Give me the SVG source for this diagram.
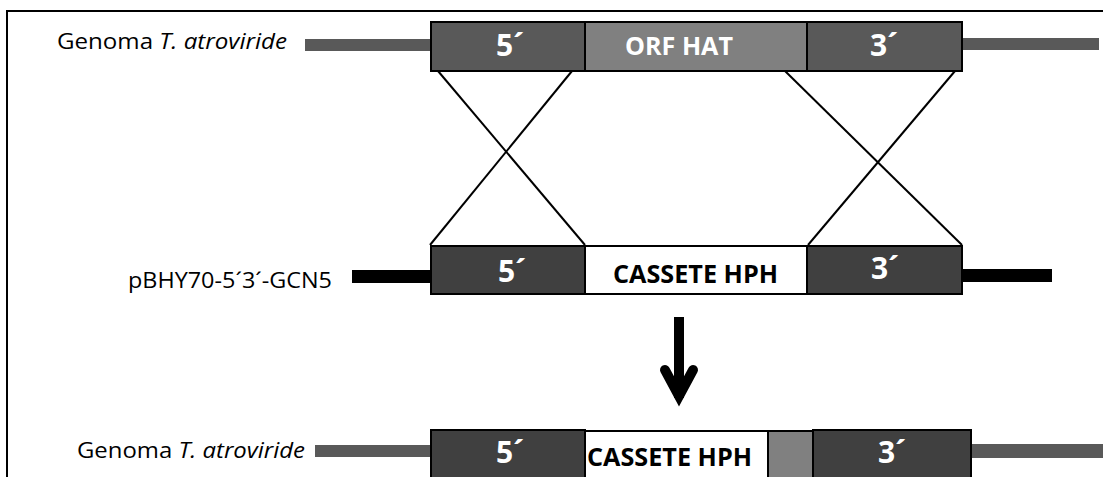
<svg xmlns="http://www.w3.org/2000/svg" width="1103" height="477" viewBox="0 0 1103 477">
  <style>
    .lbl { font-family: "Open Sans", "Noto Sans", "Liberation Sans", sans-serif; font-size: 22px; fill: #000; }
    .it { font-style: italic; }
    .num { font-family: "Open Sans", "Noto Sans", "Liberation Sans", sans-serif; font-size: 30px; font-weight: bold; fill: #fff; text-anchor: middle; }
    .seg { font-family: "Open Sans", "Noto Sans", "Liberation Sans", sans-serif; font-size: 25px; font-weight: bold; }
    .box { stroke: #000; stroke-width: 2; }
    .arm { fill: #595959; }
    .arm2 { fill: #404040; }
    .mid { fill: #808080; }
    .wht { fill: #fff; }
    .cross { stroke: #000; stroke-width: 2; fill: none; }
  </style>

  <!-- frame (top and left edges) -->
  <path d="M7 477 V11 H1103" fill="none" stroke="#000" stroke-width="2"/>

  <!-- genome, before recombination -->
  <g id="genome-top">
    <text class="lbl" x="57" y="49" textLength="230" lengthAdjust="spacingAndGlyphs">Genoma <tspan class="it">T. atroviride</tspan></text>
    <rect x="305" y="39" width="126" height="12" fill="#595959"/>
    <rect x="962" y="38" width="137" height="12" fill="#595959"/>
    <rect class="box arm" x="431" y="22" width="154" height="49"/>
    <rect class="box mid" x="585" y="22" width="222" height="49"/>
    <rect class="box arm" x="807" y="22" width="155" height="49"/>
    <text class="num" x="510" y="56">5´</text>
    <text class="seg" x="625" y="55" fill="#fff" textLength="108" lengthAdjust="spacingAndGlyphs">ORF HAT</text>
    <text class="num" x="884" y="56">3´</text>
  </g>

  <!-- plasmid construct -->
  <g id="plasmid">
    <text class="lbl" x="128" y="288" textLength="204" lengthAdjust="spacingAndGlyphs">pBHY70-5´3´-GCN5</text>
    <rect x="352" y="270" width="79" height="13" fill="#000"/>
    <rect x="962" y="269" width="90" height="13" fill="#000"/>
    <rect class="box arm2" x="431" y="246" width="154" height="48"/>
    <rect class="box wht" x="585" y="246" width="222" height="48"/>
    <rect class="box arm2" x="807" y="246" width="155" height="48"/>
    <text class="num" x="512" y="282">5´</text>
    <text class="seg" x="613" y="283" fill="#000" textLength="165" lengthAdjust="spacingAndGlyphs">CASSETE HPH</text>
    <text class="num" x="885" y="279">3´</text>
  </g>

  <!-- genome, after recombination -->
  <g id="genome-bottom">
    <text class="lbl" x="77" y="458" textLength="228" lengthAdjust="spacingAndGlyphs">Genoma <tspan class="it">T. atroviride</tspan></text>
    <rect x="315" y="445" width="116" height="12" fill="#595959"/>
    <rect x="971" y="444" width="132" height="14" fill="#595959"/>
    <rect class="box arm2" x="431" y="430" width="154" height="60"/>
    <rect class="box wht" x="585" y="431" width="183" height="60"/>
    <rect class="box mid" x="768" y="431" width="45" height="60"/>
    <rect class="box arm2" x="813" y="430" width="158" height="60"/>
    <text class="num" x="510" y="463">5´</text>
    <text class="seg" x="587" y="466" fill="#000" textLength="165" lengthAdjust="spacingAndGlyphs">CASSETE HPH</text>
    <text class="num" x="892" y="463">3´</text>
  </g>

  <!-- crossover lines and transformation arrow -->
  <g id="connectors">
    <line class="cross" x1="438" y1="71" x2="585" y2="245"/>
    <line class="cross" x1="572" y1="71" x2="430" y2="245"/>
    <line class="cross" x1="785" y1="71" x2="962" y2="245"/>
    <line class="cross" x1="955" y1="71" x2="808" y2="245"/>
    <line x1="679" y1="317" x2="679" y2="398" stroke="#000" stroke-width="10"/>
    <polyline points="665,370 679,396 693,370" fill="none" stroke="#000" stroke-width="10" stroke-linecap="round" stroke-linejoin="miter" stroke-miterlimit="6"/>
  </g>
</svg>
